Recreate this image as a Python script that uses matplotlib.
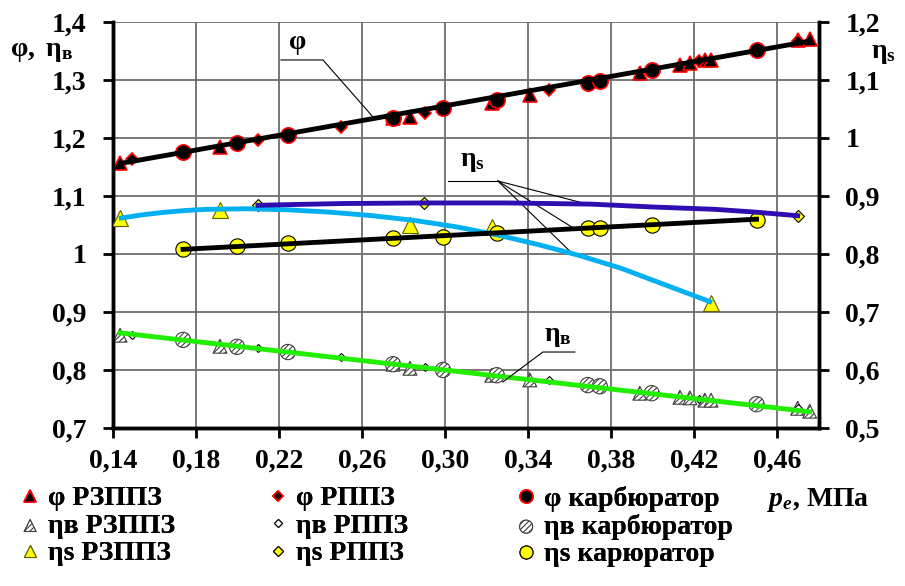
import numpy as np
import matplotlib
matplotlib.use('Agg')
import matplotlib.pyplot as plt
from matplotlib import font_manager
from matplotlib.ft2font import FT2Font

# pick a Times-like bold serif that is installed and has the Greek/Cyrillic letters we need
need = {ord(c) for c in 'φηвРЗПкарбюто'}
bold_files = {}
for f in font_manager.fontManager.ttflist:
    w = f.weight if isinstance(f.weight, int) else 700 if 'bold' in str(f.weight) else 400
    if w >= 600 and f.style == 'normal':
        bold_files.setdefault(f.name, f.fname)


def covers(path):
    try:
        return need <= set(FT2Font(path).get_charmap())
    except Exception:
        return False


preferred = ['Tinos', 'Liberation Serif', 'Times New Roman', 'TeX Gyre Termes', 'Nimbus Roman',
             'FreeSerif', 'STIX Two Text', 'Noto Serif', 'Source Serif 4', 'STIXGeneral', 'PT Serif',
             'Literata', 'Gelasio', 'DejaVu Serif']
others = sorted(n for n in bold_files if 'Serif' in n and n not in preferred)
serif = next((n for n in preferred + others if n in bold_files and covers(bold_files[n])), 'DejaVu Sans')

plt.rcParams['font.family'] = 'serif'
plt.rcParams['font.serif'] = [serif, 'DejaVu Sans']
plt.rcParams['font.weight'] = 'bold'
plt.rcParams['mathtext.fontset'] = 'custom'
plt.rcParams['mathtext.rm'] = serif + ':bold'
plt.rcParams['mathtext.bf'] = serif + ':bold'
plt.rcParams['mathtext.it'] = serif + ':italic:bold'
plt.rcParams['hatch.linewidth'] = 0.8

FS = 20

### data (pe, MPa)

# RZPPZ engine
p_rzppz = [0.1434, 0.1915, 0.2748, 0.283, 0.3224, 0.3407, 0.3937, 0.413, 0.4178, 0.425, 0.428, 0.4697, 0.4755]
phi_rzppz = [1.157, 1.185, 1.234, 1.236, 1.261, 1.274, 1.312, 1.326, 1.329, 1.334, 1.335, 1.369, 1.371]
etav_rzppz = [0.860, 0.841, 0.810, 0.803, 0.791, 0.783, 0.760, 0.753, 0.752, 0.748, 0.748, 0.734, 0.729]
p_etas_rzppz = [0.1434, 0.1915, 0.283, 0.3224, 0.428]
etas_rzppz = [0.862, 0.876, 0.850, 0.847, 0.716]

# RPPZ engine
p_rppz = [0.149, 0.2098, 0.25, 0.29, 0.35, 0.422, 0.4697]
phi_rppz = [1.163, 1.197, 1.219, 1.243, 1.283, 1.332, 1.367]
etav_rppz = [0.860, 0.838, 0.822, 0.805, 0.783, 0.750, 0.734]
p_etas_rppz = [0.2098, 0.2897, 0.4697]
etas_rppz = [0.884, 0.888, 0.866]

# carburettor engine
p_carb = [0.1737, 0.1997, 0.2242, 0.2748, 0.2989, 0.3248, 0.3686, 0.3744, 0.3994, 0.4499]
phi_carb = [1.176, 1.191, 1.205, 1.234, 1.252, 1.266, 1.295, 1.298, 1.317, 1.352]
etav_carb = [0.852, 0.840, 0.831, 0.810, 0.800, 0.791, 0.774, 0.772, 0.760, 0.741]
etas_carb = [0.809, 0.814, 0.819, 0.828, 0.830, 0.836, 0.845, 0.845, 0.850, 0.859]

# trend lines
p_phi_trend = [0.1434, 0.4755]
phi_trend = [1.156, 1.367]
p_etav_trend = [0.1434, 0.4755]
etav_trend = [0.864, 0.728]
p_etas_carb_trend = [0.1737, 0.4499]
etas_carb_trend = [0.808, 0.860]
p_etas_rppz_trend = [0.2098, 0.25, 0.29, 0.33, 0.37, 0.40, 0.43, 0.45, 0.4697]
etas_rppz_trend = [0.884, 0.887, 0.888, 0.888, 0.886, 0.881, 0.877, 0.872, 0.866]
p_etas_rzppz_trend = [0.1439, 0.155, 0.165, 0.175, 0.185, 0.205, 0.225, 0.245, 0.265, 0.285,
                      0.305, 0.325, 0.345, 0.365, 0.385, 0.405, 0.4274]
etas_rzppz_trend = [0.862, 0.868, 0.872, 0.875, 0.877, 0.878, 0.876, 0.872, 0.866, 0.858,
                    0.847, 0.833, 0.816, 0.797, 0.775, 0.748, 0.718]

x_ticks = np.arange(0.14, 0.47, 0.04)
y_ticks = np.arange(0.7, 1.41, 0.1)
y2_ticks = np.arange(0.5, 1.21, 0.1)


def comma(v, nd=None):
    s = f'{v:.2f}' if nd else f'{v:.2f}'.rstrip('0').rstrip('.')
    return s.replace('.', ',')


fig = plt.figure(figsize=(9.05, 5.86), dpi=100)
ax = fig.add_axes([0.1249, 0.2696, 0.7801, 0.6929])
ax2 = ax.twinx()

for a, lo, hi, ticks in ((ax, 0.7, 1.4, y_ticks), (ax2, 0.5, 1.2, y2_ticks)):
    a.set_xlim(0.14, 0.48)
    a.set_ylim(lo, hi)
    a.set_yticks(ticks)
    a.set_yticklabels([comma(v) for v in ticks])
    a.spines['top'].set_visible(False)
    for s in ('left', 'right', 'bottom'):
        a.spines[s].set_linewidth(2.5)
    a.tick_params(axis='y', direction='out', length=7, width=2, pad=12, labelsize=FS)
ax.set_xticks(x_ticks)
ax.set_xticklabels([comma(v, 2) for v in x_ticks])
ax.tick_params(axis='x', direction='out', length=7, width=2, pad=8, labelsize=FS)
ax.grid(True, color='#6e6e6e', lw=1.3)
ax.set_axisbelow(True)

# phi
h1, = ax.plot(p_rzppz, phi_rzppz, ls='none', marker='^', ms=10, mfc='black', mec='red', mew=1.2, zorder=3)
h2, = ax.plot(p_rppz, phi_rppz, ls='none', marker='D', ms=6.5, mfc='black', mec='red', mew=1.2, zorder=3)
h3, = ax.plot(p_carb, phi_carb, ls='none', marker='o', ms=11, mfc='black', mec='red', mew=1.2, zorder=3)
ax.plot(p_phi_trend, phi_trend, color='black', lw=3.5, zorder=4)

# eta_v
h4 = ax.scatter(p_rzppz, etav_rzppz, marker='^', s=100, facecolor='white', edgecolor='#404040',
                hatch='//////', lw=0.8, zorder=3)
h5, = ax.plot(p_rppz, etav_rppz, ls='none', marker='D', ms=4.5, mfc='white', mec='black', mew=0.8, zorder=3)
h6 = ax.scatter(p_carb, etav_carb, marker='o', s=121, facecolor='white', edgecolor='#404040',
                hatch='//////', lw=0.8, zorder=3)
ax.plot(p_etav_trend, etav_trend, color='#22ee00', lw=3.5, zorder=4)

# eta_s on the right axis
h7, = ax2.plot(p_etas_rzppz, etas_rzppz, ls='none', marker='^', ms=11, mfc='#ffff00', mec='#606000', mew=0.8, zorder=3)
h8, = ax2.plot(p_etas_rppz, etas_rppz, ls='none', marker='D', ms=6.5, mfc='#ffff00', mec='black', mew=0.8, zorder=3)
h9, = ax2.plot(p_carb, etas_carb, ls='none', marker='o', ms=11, mfc='#ffff00', mec='black', mew=0.8, zorder=3)
ax2.plot(p_etas_rzppz_trend, etas_rzppz_trend, color='#00b0f0', lw=3.5, zorder=4)
ax2.plot(p_etas_rppz_trend, etas_rppz_trend, color='#2e0eb0', lw=3.5, zorder=4)
ax2.plot(p_etas_carb_trend, etas_carb_trend, color='black', lw=3.5, zorder=4)

# callouts
ax.text(0.229, 1.364, 'φ', fontsize=FS, ha='center', va='center')
ax.plot([0.2209, 0.2411, 0.2652], [1.3345, 1.3345, 1.2362], color='black', lw=0.8, zorder=5)
ax.text(0.3133, 1.159, r'$\mathbf{η_s}$', fontsize=FS, ha='center', va='center')
ax.plot([0.3013, 0.3253], [1.1259, 1.1259], color='black', lw=0.8, zorder=5)
for xe, ye in ((0.3682, 1.0862), (0.3609, 1.0466), (0.3614, 1.0)):
    ax.plot([0.3253, xe], [1.1259, ye], color='black', lw=0.8, zorder=5)
ax.text(0.3542, 0.857, r'$\mathbf{η_в}$', fontsize=FS, ha='center', va='center')
ax.plot([0.3624, 0.3470, 0.3277], [0.8310, 0.8310, 0.7793], color='black', lw=0.8, zorder=5)

# axis titles
fig.text(10 / 905, 1 - 52 / 586, r'$\mathbf{φ,\ η_в}$', fontsize=FS, ha='left', va='center')
fig.text(871 / 905, 1 - 53 / 586, r'$\mathbf{η_s}$', fontsize=FS, ha='left', va='center')
fig.text(767 / 905, 1 - 500 / 586, r'$\mathit{p_e}$, МПа', fontsize=FS, ha='left', va='center')

# legend: three equal-width columns, one legend per column
columns = [([h1, h4, h7], ['φ РЗППЗ', 'ηв РЗППЗ', 'ηs РЗППЗ']),
           ([h2, h5, h8], ['φ РППЗ', 'ηв РППЗ', 'ηs РППЗ']),
           ([h3, h6, h9], ['φ карбюратор', 'ηв карбюратор', 'ηs карюратор'])]
for i, (hs, ls) in enumerate(columns):
    leg = fig.legend(hs, ls, loc='upper left', bbox_to_anchor=((19 + 248 * i) / 905, 0.1706),
                     frameon=False, fontsize=FS, handlelength=0.8, handletextpad=0.25,
                     labelspacing=0.07, markerscale=0.85, borderpad=0, borderaxespad=0)
    fig.add_artist(leg)

fig.savefig('out.png', dpi=100)
